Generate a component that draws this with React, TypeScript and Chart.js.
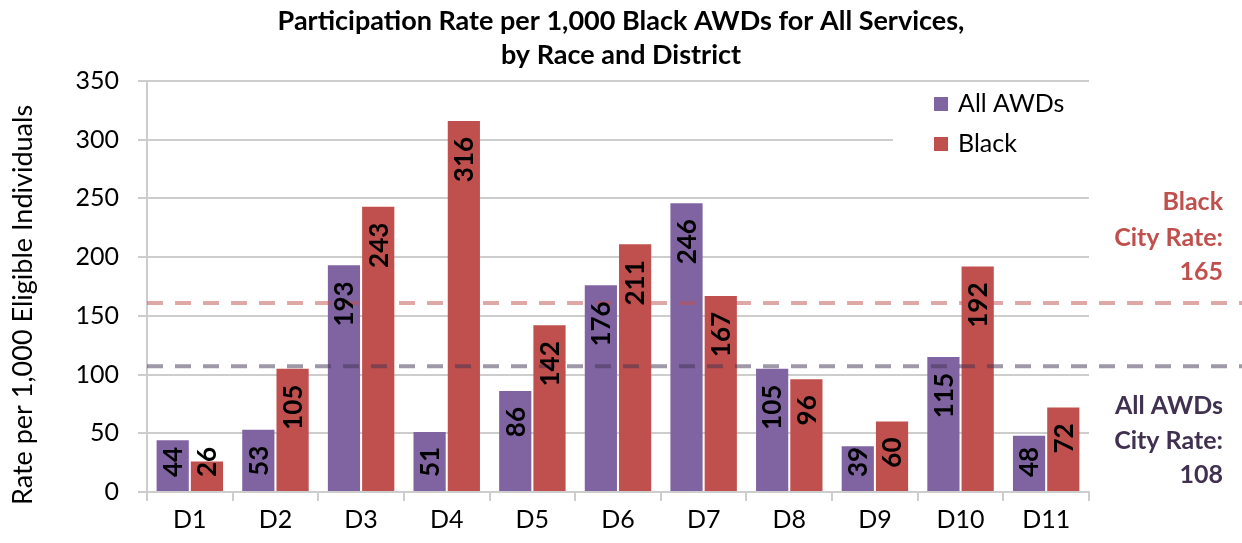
import React, { useEffect, useRef } from "react";
import { Chart, registerables } from "chart.js";

Chart.register(...registerables);

const categories = ["D1", "D2", "D3", "D4", "D5", "D6", "D7", "D8", "D9", "D10", "D11"];
const allAwdsValues = [44, 53, 193, 51, 86, 176, 246, 105, 39, 115, 48];
const blackValues = [26, 105, 243, 316, 142, 211, 167, 96, 60, 192, 72];
const seriesNames = ["All AWDs", "Black"];
const titleLines = ["Participation Rate per 1,000 Black AWDs for All Services,", "by Race and District"];
const yAxisTitle = "Rate per 1,000 Eligible Individuals";
const yMin = 0;
const yMax = 350;
const yStep = 50;
// reference lines (position as drawn in the picture) and their annotation texts
const blackCityLine = 161;
const allCityLine = 107;
const blackCityText = ["Black", "City Rate:", "165"];
const allCityText = ["All AWDs", "City Rate:", "108"];

const PURPLE = "#8064A2";
const RED = "#C0504D";
const DARK_PURPLE = "#403151";
const GRID = "#cdcdcd";
const FONT = "Lato";

const overlayPlugin = {
  id: "overlay",
  beforeDatasetsDraw(chart: any) {
    const ctx = chart.ctx;
    const area = chart.chartArea;
    ctx.save();
    // legend box covering gridlines
    ctx.fillStyle = "#ffffff";
    ctx.fillRect(893, area.top + 2, area.right - 893, 90);
    const items = [
      { name: seriesNames[0], color: PURPLE, y: 104 },
      { name: seriesNames[1], color: RED, y: 144 },
    ];
    ctx.font = `25px ${FONT}`;
    ctx.textBaseline = "middle";
    ctx.textAlign = "left";
    for (const it of items) {
      ctx.fillStyle = it.color;
      ctx.fillRect(934, it.y - 7, 14, 14);
      ctx.fillStyle = "#000";
      ctx.fillText(it.name, 958, it.y);
    }
    ctx.restore();
  },
  afterDatasetsDraw(chart: any) {
    const ctx = chart.ctx;
    const area = chart.chartArea;
    const yScale = chart.scales.y;
    ctx.save();
    // dashed reference lines
    const lines = [
      { v: blackCityLine, c: "rgba(192,80,77,0.5)" },
      { v: allCityLine, c: "rgba(64,49,81,0.5)" },
    ];
    ctx.lineWidth = 4;
    ctx.setLineDash([16, 12]);
    for (const l of lines) {
      const py = yScale.getPixelForValue(l.v);
      ctx.strokeStyle = l.c;
      ctx.beginPath();
      ctx.moveTo(area.left, py);
      ctx.lineTo(chart.width, py);
      ctx.stroke();
    }
    ctx.setLineDash([]);

    // data labels (rotated, inside end)
    ctx.font = `bold 26px ${FONT}`;
    ctx.fillStyle = "#000";
    ctx.textAlign = "right";
    ctx.textBaseline = "alphabetic";
    chart.data.datasets.forEach((ds: any, di: number) => {
      const meta = chart.getDatasetMeta(di);
      meta.data.forEach((bar: any, i: number) => {
        const text = String(ds.data[i]);
        const len = ctx.measureText(text).width;
        let top = bar.y + 16;
        if (top + len > bar.base - 14) top = bar.base - 14 - len;
        ctx.save();
        ctx.translate(bar.x, top);
        ctx.rotate(-Math.PI / 2);
        ctx.fillText(text, 0, 9.3);
        ctx.restore();
      });
    });

    // right-side annotations
    ctx.font = `bold 25px ${FONT}`;
    ctx.textAlign = "right";
    ctx.textBaseline = "alphabetic";
    ctx.fillStyle = RED;
    const bY = [210, 246, 280];
    blackCityText.forEach((t, i) => ctx.fillText(t, 1223, bY[i]));
    ctx.fillStyle = DARK_PURPLE;
    const aY = [414, 449, 483];
    allCityText.forEach((t, i) => ctx.fillText(t, 1223, aY[i]));

    ctx.restore();
  },
  afterDraw(chart: any) {
    const ctx = chart.ctx;
    ctx.save();
    ctx.font = `bold 27px ${FONT}`;
    ctx.fillStyle = "#000";
    ctx.textAlign = "center";
    ctx.textBaseline = "alphabetic";
    ctx.fillText(titleLines[0], chart.width / 2, 30);
    ctx.fillText(titleLines[1], chart.width / 2, 64);
    // y axis title
    ctx.font = `27px ${FONT}`;
    ctx.textBaseline = "middle";
    ctx.translate(23, 305);
    ctx.rotate(-Math.PI / 2);
    ctx.fillText(yAxisTitle, 0, 0);
    ctx.restore();
  },
};

export default function App() {
  const canvasRef = useRef<HTMLCanvasElement | null>(null);

  useEffect(() => {
    document.body.style.margin = "0";
    const canvas = canvasRef.current;
    if (!canvas) return;
    const chart = new Chart(canvas, {
      type: "bar",
      data: {
        labels: categories,
        datasets: [
          {
            label: seriesNames[0],
            data: allAwdsValues,
            backgroundColor: PURPLE,
            borderWidth: 0,
            barPercentage: 0.94,
            categoryPercentage: 0.8,
          },
          {
            label: seriesNames[1],
            data: blackValues,
            backgroundColor: RED,
            borderWidth: 0,
            barPercentage: 0.94,
            categoryPercentage: 0.8,
          },
        ],
      },
      options: {
        responsive: false,
        animation: false,
        layout: { padding: { top: 81, right: 153, left: 0, bottom: 0 } },
        plugins: {
          legend: { display: false },
          title: { display: false },
          tooltip: { enabled: false },
        },
        scales: {
          x: {
            grid: {
              display: true,
              drawOnChartArea: false,
              drawTicks: true,
              tickLength: 9,
              color: GRID,
              lineWidth: 2,
              offset: true,
            },
            border: { display: true, color: GRID, width: 2 },
            ticks: { font: { family: FONT, size: 25 }, color: "#000", padding: 4 },
            afterFit: (s: any) => {
              s.height = 51;
            },
          },
          y: {
            min: yMin,
            max: yMax,
            ticks: { stepSize: yStep, font: { family: FONT, size: 25 }, color: "#000", padding: 19 },
            grid: { color: GRID, lineWidth: 2, tickLength: 9 },
            border: { display: true, color: GRID, width: 2 },
            title: { display: false },
            afterFit: (s: any) => {
              s.width = 147;
            },
          },
        },
      },
      plugins: [overlayPlugin],
    });
    return () => chart.destroy();
  }, []);

  return (
    <div style={{ position: "fixed", left: 0, top: 0, width: 1242, height: 543, background: "#fff" }}>
      <canvas ref={canvasRef} width={1242} height={543} style={{ display: "block" }} />
    </div>
  );
}
